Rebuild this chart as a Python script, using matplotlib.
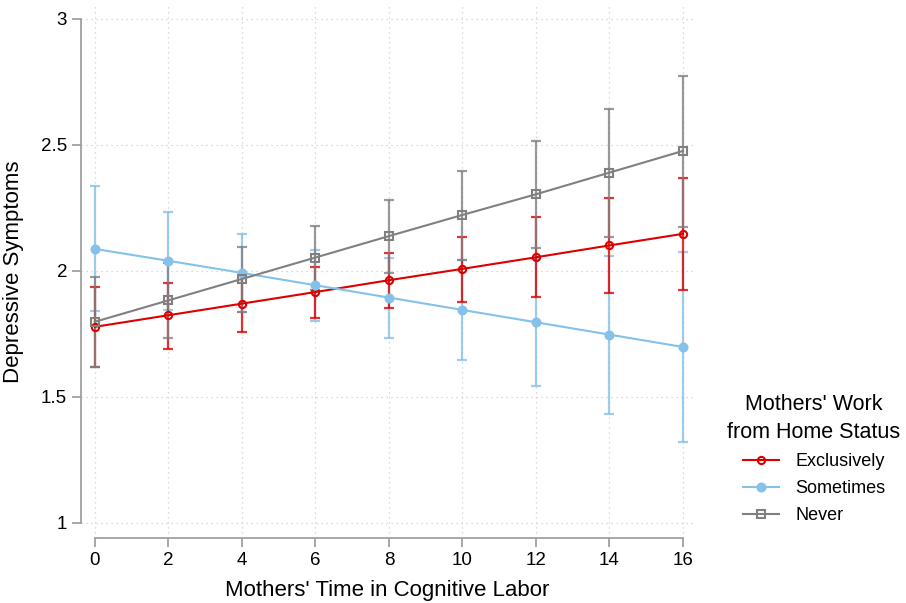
import matplotlib.pyplot as plt
import numpy as np

plt.rcParams['font.family'] = ['Liberation Sans', 'DejaVu Sans']

# time in cognitive labor
x = [0, 2, 4, 6, 8, 10, 12, 14, 16]

# Exclusively
excl = [1.778, 1.824, 1.870, 1.916, 1.963, 2.008, 2.054, 2.101, 2.147]
excl_lo = [1.619, 1.690, 1.758, 1.813, 1.853, 1.877, 1.897, 1.913, 1.925]
excl_hi = [1.937, 1.952, 1.982, 2.016, 2.071, 2.135, 2.212, 2.290, 2.369]

# Sometimes
some = [2.087, 2.040, 1.992, 1.943, 1.894, 1.845, 1.796, 1.747, 1.698]
some_lo = [1.841, 1.845, 1.836, 1.802, 1.734, 1.647, 1.544, 1.433, 1.321]
some_hi = [2.337, 2.234, 2.147, 2.083, 2.052, 2.043, 2.048, 2.060, 2.075]

# Never
never = [1.798, 1.883, 1.968, 2.053, 2.138, 2.222, 2.304, 2.390, 2.476]
never_lo = [1.619, 1.734, 1.837, 1.926, 1.992, 2.044, 2.091, 2.135, 2.175]
never_hi = [1.976, 2.030, 2.095, 2.179, 2.282, 2.397, 2.516, 2.643, 2.774]

red = '#dd0000'
blue = '#85c1e9'
gray = '#808080'

fig = plt.figure(figsize=(9.06, 6.03), dpi=100)
ax = fig.add_axes([0.0894, 0.1078, 0.6754, 0.8818])

def bars(y, lo, hi, c):
    y = np.array(y)
    err = [y - np.array(lo), np.array(hi) - y]
    ax.errorbar(x, y, yerr=err, fmt='none', ecolor=c, elinewidth=1.6,
                capsize=3.8, capthick=1.6, alpha=0.8, zorder=2)

bars(some, some_lo, some_hi, blue)
bars(excl, excl_lo, excl_hi, red)
bars(never, never_lo, never_hi, gray)

ax.plot(x, excl, color=red, lw=1.5, marker='o', ms=5.2, mfc='none',
        mec=red, mew=1.5, label='Exclusively', zorder=3)
ax.plot(x, some, color=blue, lw=1.5, marker='o', ms=6.2, mfc=blue,
        mec=blue, label='Sometimes', zorder=3)
ax.plot(x, never, color=gray, lw=1.5, marker='s', ms=5.6, mfc='none',
        mec=gray, mew=1.5, label='Never', zorder=3)

ax.set_xlim(-0.38, 16.27)
ax.set_ylim(0.94, 3.05)
ax.set_xticks(x)
ax.set_yticks([1, 1.5, 2, 2.5, 3])
ax.set_yticklabels(['1', '1.5', '2', '2.5', '3'])

for s in ['top', 'right']:
    ax.spines[s].set_visible(False)
for s in ['left', 'bottom']:
    ax.spines[s].set_color('#a0a0a0')
    ax.spines[s].set_linewidth(1.3)
ax.spines['left'].set_bounds(1, 3)
ax.spines['bottom'].set_bounds(0, 16)
ax.tick_params(axis='both', color='#a0a0a0', width=1.3, length=6.5,
               labelsize=13.5, labelcolor='black')

ax.grid(True, color='#cfcfcf', linestyle=(0, (1, 3)), linewidth=0.9)
ax.set_axisbelow(True)

ax.set_xlabel("Mothers' Time in Cognitive Labor", fontsize=16, labelpad=8)
ax.set_ylabel('Depressive Symptoms', fontsize=16, labelpad=12)

leg = fig.legend(loc='upper center', bbox_to_anchor=(814 / 906, 1 - 378 / 603),
                 frameon=False, fontsize=13, handlelength=2.0,
                 title="Mothers' Work\nfrom Home Status", title_fontsize=15.5,
                 labelspacing=0.55, handletextpad=0.9)
leg.get_title().set_multialignment('center')
leg.get_title().set_linespacing(1.45)

fig.savefig('out.png', dpi=100)
